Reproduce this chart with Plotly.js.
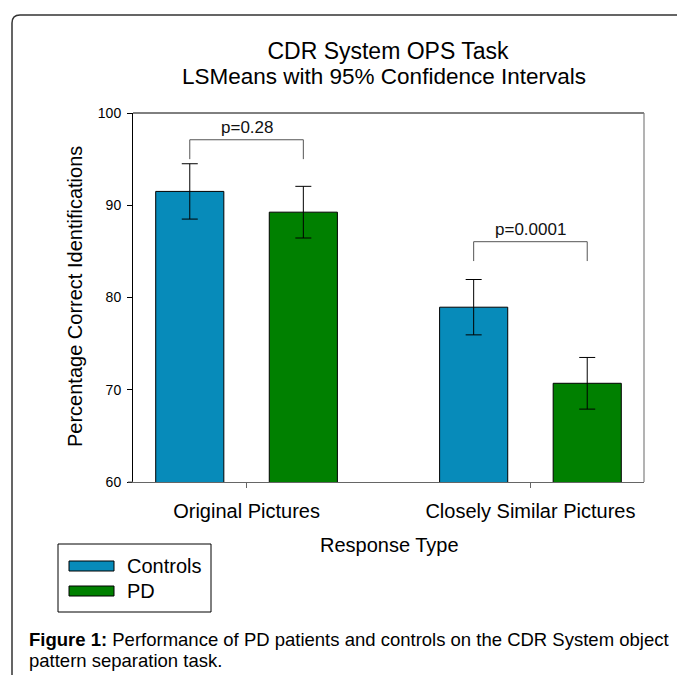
<!DOCTYPE html>
<html>
<head>
<meta charset="utf-8">
<script src="https://cdn.plot.ly/plotly-3.0.1.min.js"></script>
<style>
  html, body { margin: 0; padding: 0; background: #ffffff; }
  #chart { width: 677px; height: 675px; }
</style>
</head>
<body>
<div id="chart"></div>
<script>
// ---- data ----
const categories = ['Original Pictures', 'Closely Similar Pictures'];
const seriesNames = ['Controls', 'PD'];
const controlsMeans = [91.5, 78.95];
const controlsCI = [3.0, 3.0];
const pdMeans = [89.25, 70.7];
const pdCI = [2.8, 2.8];
const pLabels = ['p=0.28', 'p=0.0001'];
const bracketTop = [97.1, 86.05];
const bracketFoot = [95.0, 83.95];
const yTickValues = [60, 70, 80, 90, 100];
const titleLines = ['CDR System OPS Task', 'LSMeans with 95% Confidence Intervals'];
const yTitle = 'Percentage Correct Identifications';
const xTitle = 'Response Type';
const captionLines = ['<b>Figure 1:</b> Performance of PD patients and controls on the CDR System object',
                      'pattern separation task.'];

// ---- layout geometry ----
const W = 677, H = 675;
const L = 133, R = 644, T = 113, B = 482;
const PW = R - L, PH = B - T;
const px = x => (x - L) / PW;
const py = y => (B - y) / PH;
const FONT = 'Liberation Sans, Arial, sans-serif';
const colors = ['#078BBA', '#008000'];
const bargap = 0.2, bargroupgap = 0.4;
const groupOffset = (1 - bargap) / 4;

const traces = [
  {
    type: 'bar', name: seriesNames[0], x: categories, y: controlsMeans,
    marker: {color: colors[0], line: {color: '#000', width: 1}},
    error_y: {type: 'data', array: controlsCI, visible: true, color: '#000', thickness: 1, width: 8},
    showlegend: false, hoverinfo: 'y'
  },
  {
    type: 'bar', name: seriesNames[1], x: categories, y: pdMeans,
    marker: {color: colors[1], line: {color: '#000', width: 1}},
    error_y: {type: 'data', array: pdCI, visible: true, color: '#000', thickness: 1, width: 8},
    showlegend: false, hoverinfo: 'y'
  }
];

const shapes = [];
const annotations = [];

// plot frame (top black, right gray) and bottom line extension under the y ticks
shapes.push({type: 'line', xref: 'paper', yref: 'paper', x0: 0, x1: 1, y0: 1, y1: 1, line: {color: '#000', width: 1}});
shapes.push({type: 'line', xref: 'paper', yref: 'paper', x0: 1, x1: 1, y0: 0, y1: 1, line: {color: '#808080', width: 1.2}});
shapes.push({type: 'line', xref: 'paper', yref: 'paper', x0: px(128), x1: 0, y0: 0, y1: 0, line: {color: '#666', width: 1}});

// significance brackets
categories.forEach((c, i) => {
  const xl = i - groupOffset, xr = i + groupOffset;
  shapes.push({
    type: 'path', xref: 'x', yref: 'y',
    path: `M${xl},${bracketFoot[i]} L${xl},${bracketTop[i]} L${xr},${bracketTop[i]} L${xr},${bracketFoot[i]}`,
    line: {color: '#555', width: 1}
  });
  annotations.push({
    xref: 'x', yref: 'y', x: i, y: bracketTop[i], yanchor: 'bottom', xanchor: 'center',
    text: pLabels[i], showarrow: false, yshift: 1,
    font: {family: FONT, size: 17, color: '#111'}
  });
});

// outer figure frame with rounded top-left corner
{
  const x0 = px(12), yT = py(15), rx = 8 / PW, ry = 8 / PH;
  const xEnd = px(W + 5), yEnd = py(H + 5);
  shapes.push({
    type: 'path', xref: 'paper', yref: 'paper',
    path: `M${x0},${yEnd} L${x0},${yT - ry} Q${x0},${yT} ${x0 + rx},${yT} L${xEnd},${yT}`,
    line: {color: '#333', width: 1.5}
  });
}

// custom legend
shapes.push({type: 'rect', xref: 'paper', yref: 'paper', x0: px(58), x1: px(211), y0: py(544), y1: py(612),
             line: {color: '#000', width: 1}, fillcolor: 'rgba(0,0,0,0)'});
const legendY = [566, 591];
seriesNames.forEach((n, i) => {
  shapes.push({type: 'rect', xref: 'paper', yref: 'paper', x0: px(69), x1: px(114),
               y0: py(legendY[i] - 5), y1: py(legendY[i] + 5),
               line: {color: '#000', width: 1}, fillcolor: colors[i]});
  annotations.push({xref: 'paper', yref: 'paper', x: px(125), y: py(legendY[i]), xanchor: 'left', yanchor: 'middle',
                    text: n, showarrow: false, font: {family: FONT, size: 20, color: '#000'}});
});

// title second line
annotations.push({xref: 'paper', yref: 'paper', x: px(384), y: py(76), xanchor: 'center', yanchor: 'middle',
                  text: titleLines[1], showarrow: false, font: {family: FONT, size: 22.5, color: '#000'}});
// axis titles
annotations.push({xref: 'paper', yref: 'paper', x: px(75), y: py(297), xanchor: 'center', yanchor: 'middle',
                  text: yTitle, textangle: -90, showarrow: false, font: {family: FONT, size: 20, color: '#000'}});
annotations.push({xref: 'paper', yref: 'paper', x: px(389), y: py(545), xanchor: 'center', yanchor: 'middle',
                  text: xTitle, showarrow: false, font: {family: FONT, size: 20, color: '#000'}});
// caption
captionLines.forEach((t, i) => {
  annotations.push({xref: 'paper', yref: 'paper', x: px(27), y: py(639 + 21 * i), xanchor: 'left', yanchor: 'middle',
                    text: t, showarrow: false, font: {family: FONT, size: 18.5, color: '#000'}});
});

const layout = {
  width: W, height: H,
  margin: {l: L, r: W - R, t: T, b: H - B, pad: 0},
  paper_bgcolor: '#fff', plot_bgcolor: '#fff',
  font: {family: FONT, color: '#000'},
  title: {text: titleLines[0], xref: 'container', yref: 'container', x: 388 / W, xanchor: 'center',
          y: 1 - 51 / H, yanchor: 'middle', font: {family: FONT, size: 23, color: '#000'}},
  barmode: 'group', bargap: bargap, bargroupgap: bargroupgap,
  showlegend: false,
  xaxis: {
    type: 'category', range: [-0.4, 1.4], showline: true, linecolor: '#666', linewidth: 1,
    ticks: 'outside', ticklen: 5, tickcolor: '#666', tickwidth: 1, showgrid: false, zeroline: false,
    tickfont: {family: FONT, size: 20, color: '#000'}, ticklabelstandoff: 6, fixedrange: true
  },
  yaxis: {
    range: [60, 100], tickvals: yTickValues, showline: true, linecolor: '#000', linewidth: 1,
    ticks: 'outside', ticklen: 5, tickcolor: '#000', tickwidth: 1, showgrid: false, zeroline: false,
    tickfont: {family: FONT, size: 14, color: '#000'}, ticklabelstandoff: 3, fixedrange: true
  },
  shapes: shapes,
  annotations: annotations
};

Plotly.newPlot('chart', traces, layout, {displayModeBar: false, staticPlot: true});
</script>
</body>
</html>
